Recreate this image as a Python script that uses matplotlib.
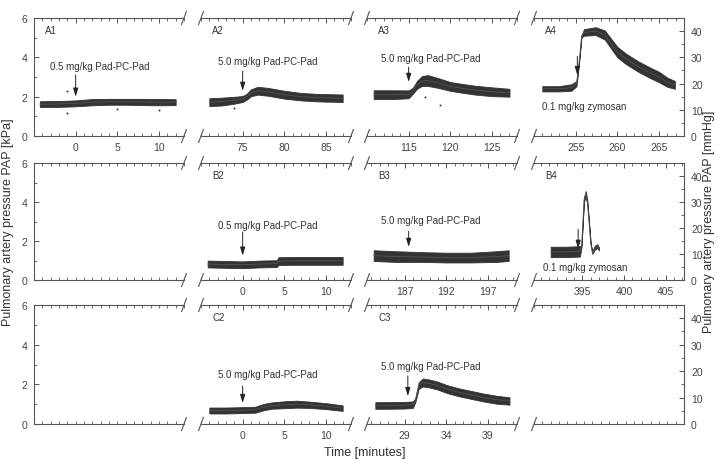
import matplotlib
matplotlib.use("Agg")
import matplotlib.pyplot as plt
import numpy as np
from matplotlib.ticker import MultipleLocator

plt.rcParams['font.family'] = ['Liberation Sans', 'DejaVu Sans']

MMHG_PER_KPA = 7.5

# ---------------- data ----------------
# Row A
A1_t = [-4.3, -2, 0, 2, 4, 6, 8, 10, 12]
A1_kpa = [1.62, 1.63, 1.66, 1.72, 1.74, 1.74, 1.73, 1.72, 1.72]
A1_spread = [0.3, 0.3, 0.3, 0.32, 0.3, 0.3, 0.32, 0.32, 0.3]

A2_t = [71, 72.5, 74, 75, 75.5, 76, 76.8, 78, 80, 82, 84, 86, 87]
A2_kpa = [1.72, 1.75, 1.82, 1.88, 2.0, 2.2, 2.3, 2.25, 2.1, 2.0, 1.95, 1.93, 1.92]
A2_spread = [0.4, 0.4, 0.35, 0.3, 0.3, 0.35, 0.4, 0.4, 0.4, 0.38, 0.38, 0.38, 0.38]

A3_t = [110.8, 113, 115, 115.5, 116, 116.6, 117.3, 118.5, 120, 121.5, 123, 125, 127.1]
A3_kpa = [2.1, 2.1, 2.12, 2.3, 2.6, 2.8, 2.82, 2.7, 2.52, 2.42, 2.33, 2.25, 2.2]
A3_spread = [0.45, 0.45, 0.4, 0.3, 0.4, 0.5, 0.55, 0.5, 0.45, 0.45, 0.45, 0.45, 0.4]

A4_t = [251, 253, 254.5, 255.1, 255.4, 255.7, 256, 257.4, 258.5, 260, 261, 262.5, 264, 265, 266, 266.9]
A4_mmhg = [18, 18, 18.5, 20, 28, 38, 39.5, 40, 38.5, 32, 29.5, 26.5, 24, 22.5, 20.5, 19.5]
A4_spread_mmhg = [2, 2, 2.5, 2, 0.8, 0.8, 2.5, 3, 3.5, 4, 4, 4, 4, 4, 3.5, 3]

# Row B
B2_t = [-4.2, -2, 0, 2, 4.1, 4.3, 6, 8, 10, 12]
B2_kpa = [0.82, 0.8, 0.78, 0.82, 0.84, 0.97, 0.98, 0.98, 0.98, 0.98]
B2_spread = [0.35, 0.35, 0.35, 0.35, 0.35, 0.4, 0.4, 0.4, 0.4, 0.4]

B3_t = [183.3, 186, 189, 192, 195, 198, 199.5]
B3_kpa = [1.25, 1.2, 1.18, 1.15, 1.15, 1.2, 1.25]
B3_spread = [0.55, 0.55, 0.5, 0.5, 0.5, 0.55, 0.55]

B4_t = [391.2, 393, 394.7, 394.9, 395.05, 395.2, 395.4, 395.6, 395.8, 396.0, 396.2, 396.5, 396.8, 397.0]
B4_mmhg = [10.8, 10.8, 11, 13, 22, 31, 33, 30, 22, 14, 10.5, 12.5, 13, 12]
B4_spread_mmhg = [4, 4, 4, 1, 0.6, 1.5, 2.5, 1.5, 0.6, 0.6, 1, 1.5, 1.5, 1.2]

# Row C
C2_t = [-4, -2, 0, 1.5, 2.5, 3.5, 5, 6.5, 8, 10, 12]
C2_kpa = [0.68, 0.68, 0.7, 0.72, 0.85, 0.93, 0.97, 1.0, 0.97, 0.9, 0.8]
C2_spread = [0.3, 0.3, 0.3, 0.3, 0.32, 0.32, 0.35, 0.35, 0.32, 0.3, 0.28]

C3_t = [25.5, 27, 29, 30, 30.3, 30.7, 31.2, 32, 33, 34, 35.5, 37, 38.5, 40, 41.6]
C3_mmhg = [7, 7, 7.1, 7.3, 9, 14.5, 15.7, 15.3, 14.5, 13.3, 12, 11, 10, 9.2, 8.7]
C3_spread_mmhg = [2.5, 2.5, 2.5, 2.5, 1.5, 2.5, 3, 3, 3, 3, 3, 3, 3, 3, 2.8]

# isolated outlier samples (time, kPa)
A1_out_t = [-1, -1, 5, 10]
A1_out_kpa = [2.28, 1.18, 1.35, 1.3]
A2_out_t = [74]
A2_out_kpa = [1.4]
A3_out_t = [117, 118.8]
A3_out_kpa = [2.0, 1.6]

# panel x ranges and tick labels
panel_names = [['A1', 'A2', 'A3', 'A4'],
               ['B1', 'B2', 'B3', 'B4'],
               ['C1', 'C2', 'C3', 'C4']]
xlims = {'A1': (-5, 13), 'A2': (70, 88), 'A3': (110, 128), 'A4': (250, 268),
         'B1': (-5, 13), 'B2': (-5, 13), 'B3': (182.5, 200.5), 'B4': (389.2, 407.2),
         'C1': (-5, 13), 'C2': (-5, 13), 'C3': (24.5, 42.5), 'C4': (-5, 13)}
xticks = {'A1': [0, 5, 10], 'A2': [75, 80, 85], 'A3': [115, 120, 125],
          'A4': [255, 260, 265], 'B2': [0, 5, 10], 'B3': [187, 192, 197],
          'B4': [395, 400, 405], 'C2': [0, 5, 10], 'C3': [29, 34, 39]}
labelled = ['A1', 'A2', 'A3', 'A4', 'B2', 'B3', 'B4', 'C2', 'C3']

traces = {
    'A1': (A1_t, A1_kpa, A1_spread),
    'A2': (A2_t, A2_kpa, A2_spread),
    'A3': (A3_t, A3_kpa, A3_spread),
    'A4': (A4_t, np.array(A4_mmhg) / MMHG_PER_KPA, np.array(A4_spread_mmhg) / MMHG_PER_KPA),
    'B2': (B2_t, B2_kpa, B2_spread),
    'B3': (B3_t, B3_kpa, B3_spread),
    'B4': (B4_t, np.array(B4_mmhg) / MMHG_PER_KPA, np.array(B4_spread_mmhg) / MMHG_PER_KPA),
    'C2': (C2_t, C2_kpa, C2_spread),
    'C3': (C3_t, np.array(C3_mmhg) / MMHG_PER_KPA, np.array(C3_spread_mmhg) / MMHG_PER_KPA),
}
outliers = {'A1': (A1_out_t, A1_out_kpa), 'A2': (A2_out_t, A2_out_kpa),
            'A3': (A3_out_t, A3_out_kpa)}

# annotations: (text, text_x, text_y, arrow_x, arrow_from_y, arrow_to_y) in data units (kPa)
annots = {
    'A1': ('0.5 mg/kg Pad-PC-Pad', 2.9, 3.55, 0, 3.1, 2.0),
    'A2': ('5.0 mg/kg Pad-PC-Pad', 78.0, 3.8, 75, 3.3, 2.3),
    'A3': ('5.0 mg/kg Pad-PC-Pad', 117.7, 3.95, 115, 3.5, 2.75),
    'A4': ('0.1 mg/kg zymosan', 256.0, 1.5, 255.2, 4.05, 3.1),
    'B2': ('0.5 mg/kg Pad-PC-Pad', 3.0, 2.82, 0, 2.46, 1.25),
    'B3': ('5.0 mg/kg Pad-PC-Pad', 190.2, 3.08, 187.5, 2.5, 1.7),
    'B4': ('0.1 mg/kg zymosan', 395.3, 0.67, 394.5, 2.6, 1.6),
    'C2': ('5.0 mg/kg Pad-PC-Pad', 3.0, 2.52, 0, 1.92, 1.06),
    'C3': ('5.0 mg/kg Pad-PC-Pad', 32.2, 2.92, 29.4, 2.42, 1.41),
}

# ---------------- figure ----------------
W, H = 718, 460
fig = plt.figure(figsize=(W / 100, H / 100), dpi=100)
col_x = [34, 201, 367, 534]
col_w = 150
row_top = [19, 164, 306]
row_h = [118, 117, 119]

AX_COL = '#555555'
TXT_COL = '#444444'
TRACE_COL = '#333333'

for r in range(3):
    for c in range(4):
        name = panel_names[r][c]
        ax = fig.add_axes([col_x[c] / W, 1 - (row_top[r] + row_h[r]) / H,
                           col_w / W, row_h[r] / H])
        ax.set_xlim(*xlims[name])
        ax.set_ylim(0, 6)
        for sp in ax.spines.values():
            sp.set_color(AX_COL)
            sp.set_linewidth(0.8)
        ax.spines['left'].set_visible(c == 0)
        ax.spines['right'].set_visible(False)
        ax.patch.set_alpha(0)

        # x ticks
        ax.set_xticks(xticks.get(name, []))
        ax.xaxis.set_minor_locator(MultipleLocator(1))
        ax.tick_params(axis='x', which='both', direction='in', top=True, bottom=True,
                       colors=AX_COL, labelcolor=TXT_COL, labelsize=7.5, pad=4)
        ax.tick_params(axis='x', which='major', length=3.5, width=0.7)
        ax.tick_params(axis='x', which='minor', length=2, width=0.6)

        if c == 0:
            ax.set_yticks([0, 2, 4, 6])
            ax.yaxis.set_minor_locator(MultipleLocator(1))
            ax.tick_params(axis='y', which='both', direction='in', colors=AX_COL,
                           labelcolor=TXT_COL, labelsize=7.5, pad=5)
            ax.tick_params(axis='y', which='major', length=3.5, width=0.7)
            ax.tick_params(axis='y', which='minor', length=2, width=0.6)
        else:
            ax.set_yticks([])
        if c == 3:
            ax2 = ax.twinx()
            ax2.set_ylim(0, 6 * MMHG_PER_KPA)
            ax2.set_yticks([0, 10, 20, 30, 40])
            ax2.yaxis.set_minor_locator(MultipleLocator(5))
            for sn, sp in ax2.spines.items():
                sp.set_visible(sn == 'right')
                sp.set_color(AX_COL)
                sp.set_linewidth(0.8)
            ax2.tick_params(axis='y', which='both', direction='in', colors=AX_COL,
                            labelcolor=TXT_COL, labelsize=7.5, pad=5)
            ax2.tick_params(axis='y', which='major', length=3.5, width=0.7)
            ax2.tick_params(axis='y', which='minor', length=2, width=0.6)

        # break marks
        dx, dy = 0.016, 0.055
        kw = dict(transform=ax.transAxes, color=AX_COL, lw=0.8, clip_on=False)
        ends = []
        if c < 3:
            ends.append(1.0)
        if c > 0:
            ends.append(0.0)
        for xe in ends:
            for ye in (0.0, 1.0):
                ax.plot([xe - dx, xe + dx], [ye - dy, ye + dy], **kw)

        # panel label
        if name in labelled:
            ax.text(0.075, 0.9, name, transform=ax.transAxes, fontsize=7,
                    color='#333333', va='center', ha='left')

        # traces
        if name in traces:
            t, p, s = traces[name]
            t = np.asarray(t, float)
            p = np.asarray(p, float)
            s = np.asarray(s, float)
            ax.fill_between(t, p - s / 2, p + s / 2, color=TRACE_COL, lw=0.6,
                            edgecolor=TRACE_COL)
            ax.plot(t, p, color='#5a5a5a', lw=0.5)
        if name in outliers:
            ot, op = outliers[name]
            ax.scatter(ot, op, s=2, color=TRACE_COL, lw=0)

        # annotation
        if name in annots:
            txt, tx, ty, axx, ay0, ay1 = annots[name]
            ax.text(tx, ty, txt, fontsize=7, color='#333333', ha='center', va='center')
            ax.annotate('', xy=(axx, ay1), xytext=(axx, ay0),
                        arrowprops=dict(arrowstyle='-|>,head_length=0.5,head_width=0.15',
                                        color='#222222', lw=0.7, shrinkA=0, shrinkB=0))

fig.text(8 / W, 1 - 222 / H, 'Pulmonary artery pressure PAP [kPa]', rotation=90,
         fontsize=9, color='#333333', ha='center', va='center')
fig.text(709 / W, 1 - 222 / H, 'Pulmonary artery pressure PAP [mmHg]', rotation=90,
         fontsize=9, color='#333333', ha='center', va='center')
fig.text(365 / W, 1 - 453 / H, 'Time [minutes]', fontsize=9, color='#333333',
         ha='center', va='center')

fig.savefig('out.png', dpi=100)
